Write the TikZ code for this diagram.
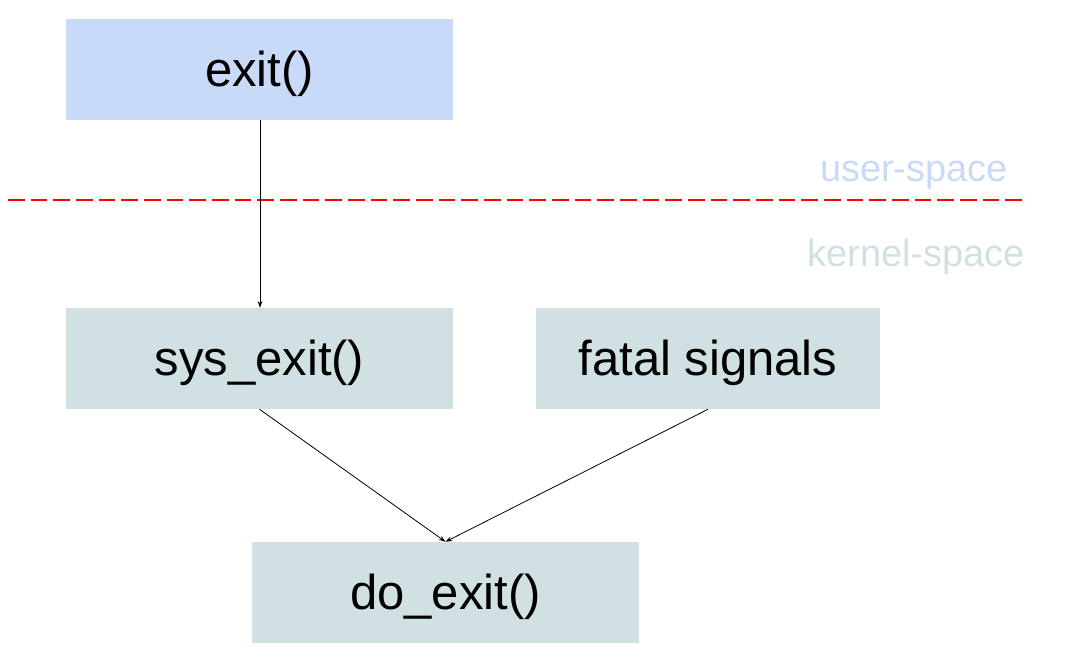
\documentclass[tikz,border=0pt]{standalone}
\usepackage{fontspec}
\setmainfont{Liberation Sans}
\usetikzlibrary{arrows.meta}
\definecolor{userblue}{HTML}{C9DAF8}
\definecolor{kernelgray}{HTML}{D0E0E3}
\tikzset{
  fnbox/.style = {align=center, inner sep=0pt, text centered, font=\fontsize{36.75}{40}\selectfont,
    text height=29.8pt, text depth=4.7pt, minimum width=290.25pt, minimum height=75.75pt},
  user_n/.style = {fnbox, fill=userblue},
  kern_n/.style = {fnbox, fill=kernelgray},
  space_l/.style = {font=\fontsize{28.5}{32}\selectfont, inner sep=0pt},
  call/.style = {-{Stealth[length=5pt,width=3.5pt]}, line width=0.6pt}
}

\begin{document}
\begin{tikzpicture}[x=0.75pt, y=-0.75pt]
\useasboundingbox (0,0) rectangle (1070,671);
% boxes
\node [user_n] (exit) at (259.5,69.5) {exit()};
\node [kern_n] (sysexit) at (259.5,358.5) {sys\_exit()};
\node [kern_n, minimum width=258pt] (fatal) at (708,358.5) {fatal signals};
\node [kern_n] (doexit) at (445.5,592.5) {do\_exit()};
% boundary
\coordinate (bl) at (8,200);
\coordinate (br) at (1025,200);
\draw [red, line width=1.6pt, dash pattern=on 12.5pt off 4.5pt] (bl) -- (br);
\node [space_l, text=userblue] (user) at (914,175) {user-space};
\node [space_l, text=kernelgray] (kernel) at (916,257) {kernel-space};
% calls
\draw [call] (exit.south -| 260,0) -- (sysexit.north -| 260,0);
\draw [call] (sysexit.south) -- (doexit.north);
\draw [call] (fatal.south) -- (doexit.north);
\end{tikzpicture}
\end{document}
